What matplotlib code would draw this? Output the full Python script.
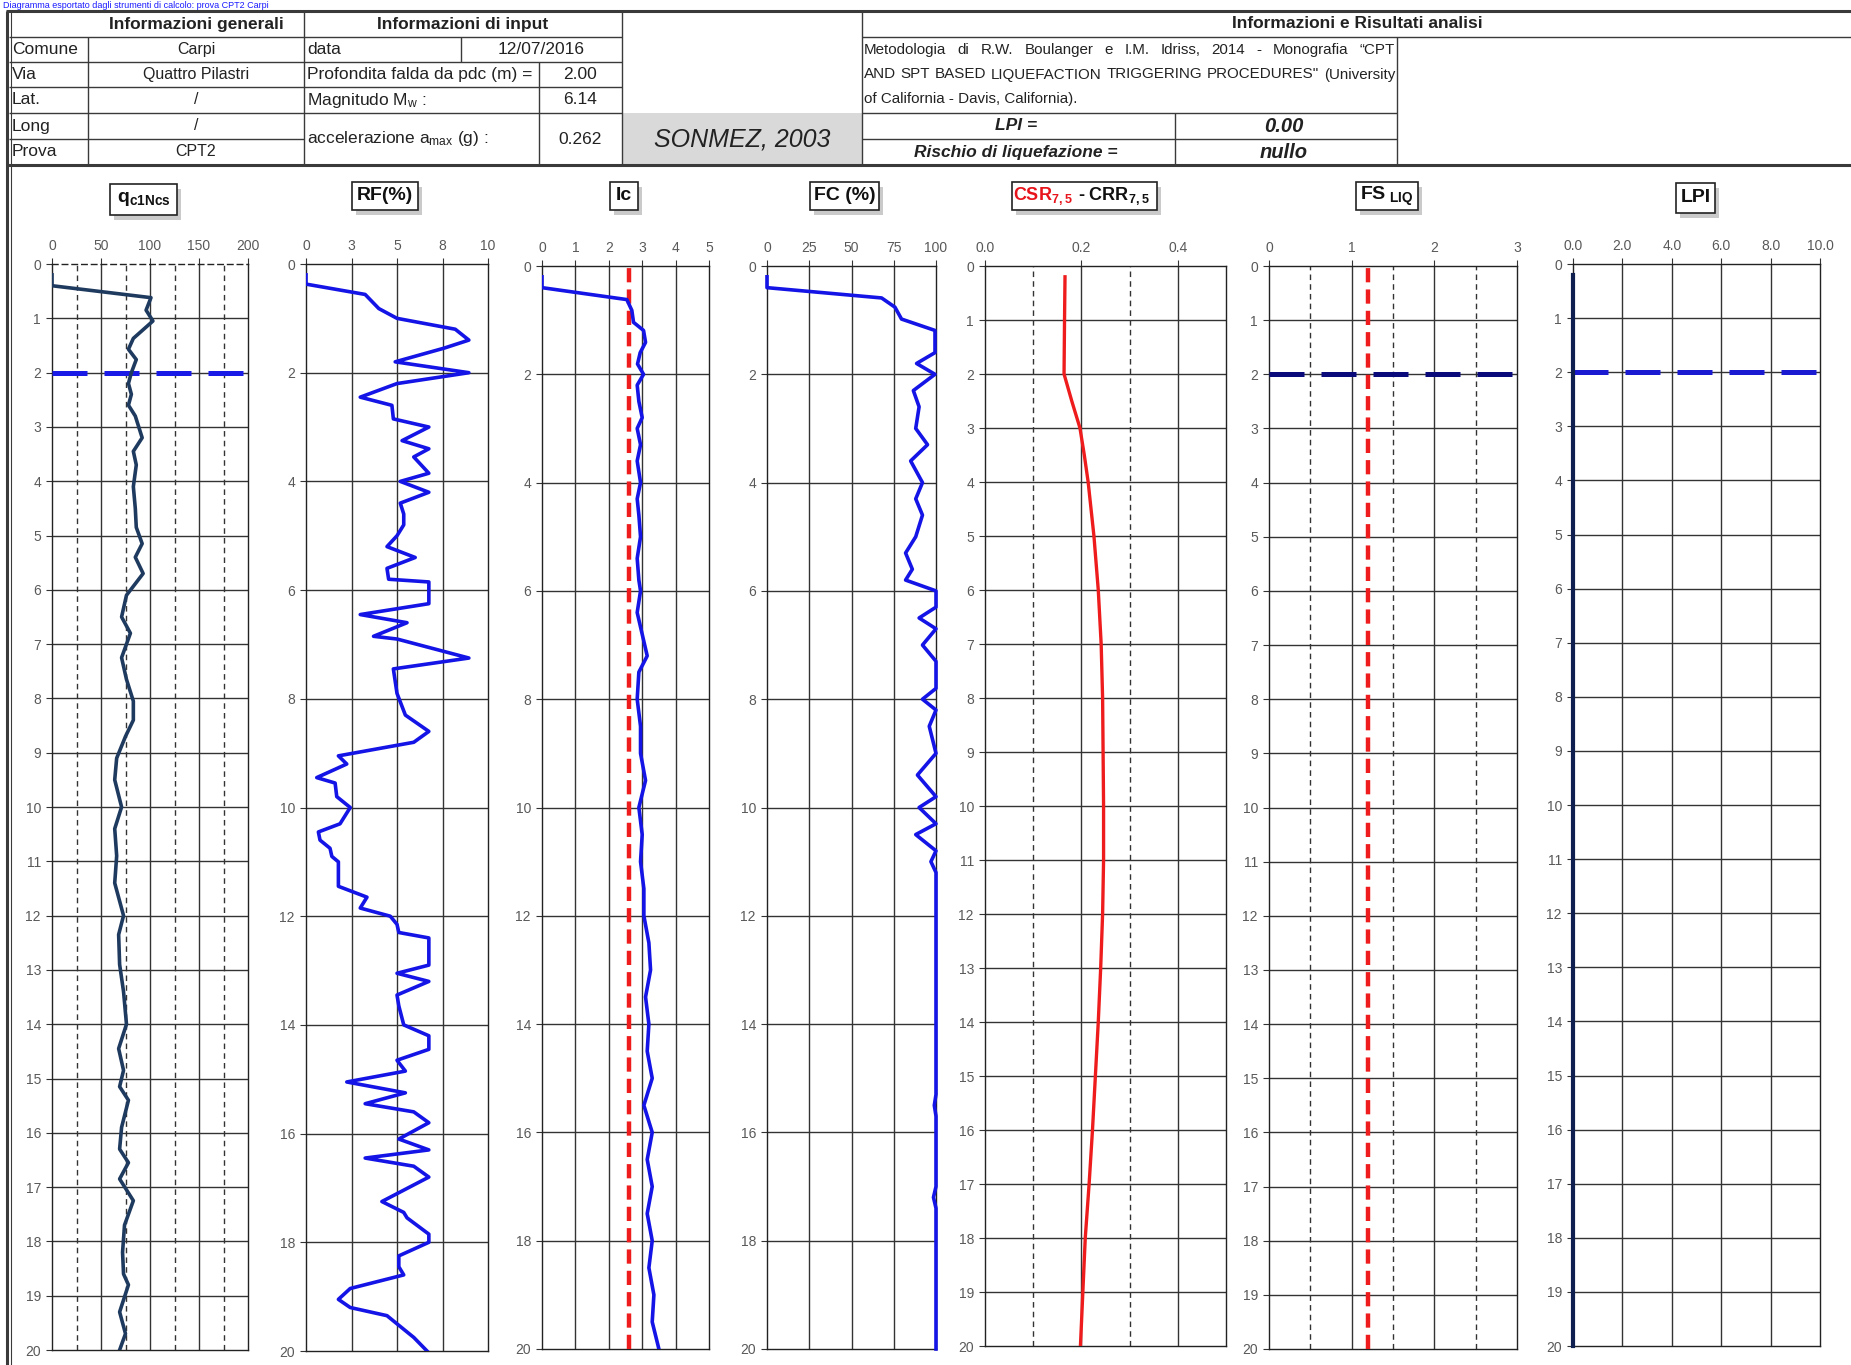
import matplotlib
matplotlib.use("Agg")
import matplotlib.pyplot as plt
from matplotlib.patches import Rectangle
import numpy as np

# ---------------------------------------------------------------- data
qc_depth = [0.2, 0.4, 0.62, 0.85, 1.05, 1.37, 1.57, 1.76, 2.0, 2.2, 2.4, 2.6, 2.8, 3.2, 3.45,
            3.7, 4.1, 4.5, 4.85, 5.15, 5.4, 5.7, 6.1, 6.5, 6.8, 7.25, 7.65, 8.05, 8.4, 8.7,
            9.1, 9.5, 10.0, 10.4, 10.9, 11.4, 12.0, 12.35, 12.9, 13.4, 14.0, 14.45, 14.85,
            15.15, 15.4, 15.9, 16.3, 16.55, 16.85, 17.25, 17.7, 18.2, 18.6, 18.8, 19.3, 19.7, 20.0]
qc_value = [0, 0, 101, 96, 103, 83, 78, 86, 81, 78, 81, 78, 85, 92, 83,
            86, 83, 85, 86, 92, 85, 93, 76, 71, 80, 71, 76, 83, 83, 75,
            66, 64, 71, 64, 66, 64, 73, 68, 69, 73, 76, 68, 73,
            69, 78, 71, 69, 78, 69, 83, 74, 72, 73, 78, 69, 75, 69]

rf_depth = [0.2, 0.37, 0.56, 0.82, 1.0, 1.2, 1.4, 1.55, 1.8, 2.0, 2.2, 2.45, 2.6, 2.85, 3.0,
            3.25, 3.4, 3.55, 3.85, 4.0, 4.2, 4.4, 4.6, 4.8, 5.0, 5.2, 5.4, 5.6, 5.8, 5.85,
            6.25, 6.45, 6.6, 6.85, 6.9, 7.25, 7.45, 7.9, 8.3, 8.6, 8.8, 9.05, 9.2, 9.45, 9.55,
            9.8, 10.0, 10.3, 10.45, 10.6, 10.75, 10.9, 11.0, 11.45, 11.65, 11.85, 12.0, 12.15,
            12.3, 12.4, 12.9, 13.05, 13.2, 13.45, 13.65, 14.0, 14.2, 14.45, 14.65, 14.85, 15.05,
            15.25, 15.45, 15.6, 15.8, 16.1, 16.3, 16.45, 16.6, 16.8, 17.25, 17.45, 17.55, 17.85,
            18.0, 18.25, 18.45, 18.6, 18.85, 19.05, 19.2, 19.35, 19.5, 19.75, 20.0]
rf_value = [0, 0, 3.25, 4.0, 5.0, 8.2, 8.95, 7.57, 4.9, 8.95, 5.0, 2.98, 4.72, 4.8, 6.75,
            5.28, 6.75, 5.92, 6.75, 5.18, 6.75, 5.18, 5.37, 5.37, 5.0, 4.45, 6.0, 4.45, 4.54, 6.75,
            6.75, 2.98, 5.55, 3.71, 5.0, 8.95, 4.8, 5.0, 5.46, 6.75, 5.92, 1.78, 2.24, 0.59, 1.6,
            1.69, 2.43, 1.87, 0.68, 0.77, 1.32, 1.42, 1.78, 1.78, 3.35, 2.98, 4.63, 5.0,
            5.1, 6.75, 6.75, 5.0, 6.75, 5.0, 5.1, 5.37, 6.75, 6.75, 5.0, 5.46, 2.24,
            5.46, 3.25, 5.92, 6.75, 5.1, 6.75, 3.25, 5.92, 6.75, 4.17, 5.37, 5.55, 6.75,
            6.75, 5.1, 5.1, 5.37, 2.43, 1.78, 2.43, 4.45, 5.0, 5.92, 6.65]

ic_depth = [0.2, 0.4, 0.62, 0.82, 1.04, 1.19, 1.41, 1.6, 1.81, 2.0, 2.2, 2.5, 2.8, 3.0, 3.3,
            3.6, 4.0, 4.3, 4.6, 5.0, 5.4, 5.8, 6.0, 6.4, 6.8, 7.2, 7.5, 8.0, 8.5, 9.0, 9.5,
            10.0, 10.5, 11.0, 11.5, 12.0, 12.5, 13.0, 13.5, 14.0, 14.5, 15.0, 15.5, 16.0, 16.5,
            17.0, 17.5, 18.0, 18.5, 19.0, 19.5, 20.0]
ic_value = [0, 0, 2.54, 2.69, 2.74, 3.04, 3.1, 2.94, 2.86, 3.04, 2.85, 2.9, 3.0, 2.85, 2.95,
            2.85, 2.95, 2.85, 2.9, 2.95, 2.85, 2.9, 2.95, 2.85, 3.0, 3.15, 2.9, 2.85, 2.95, 2.95, 3.1,
            2.9, 3.0, 2.95, 3.05, 3.05, 3.2, 3.25, 3.1, 3.2, 3.15, 3.3, 3.05, 3.3, 3.15,
            3.3, 3.15, 3.3, 3.2, 3.35, 3.3, 3.5]

fc_depth = [0.2, 0.4, 0.59, 0.76, 0.98, 1.19, 1.6, 1.8, 2.0, 2.3, 2.6, 3.0, 3.3, 3.6, 4.0,
            4.3, 4.6, 5.0, 5.3, 5.6, 5.8, 6.0, 6.3, 6.5, 6.7, 7.0, 7.3, 7.8, 8.0, 8.2, 8.5,
            9.0, 9.4, 9.8, 10.0, 10.3, 10.5, 10.8, 11.0, 11.2, 15.3, 15.5, 15.7, 17.0, 17.2,
            17.4, 20.0]
fc_value = [0, 0, 67.8, 75.7, 79.6, 99.4, 99.4, 88.5, 99.4, 86.6, 90, 88, 95, 85, 92,
            88, 92, 88, 82, 86, 82, 100, 100, 90, 100, 92, 100, 100, 92, 100, 96,
            100, 89, 100, 90, 100, 88, 100, 97, 100, 100, 99, 100, 100, 98.5,
            100, 100]

csr_depth = [0.2, 1.0, 2.0, 2.5, 3.0, 3.5, 4.0, 5.0, 6.0, 7.0, 8.0, 9.0, 10.0, 11.0, 12.0,
             13.0, 14.0, 15.0, 16.0, 17.0, 18.0, 19.0, 20.0]
csr_value = [0.166, 0.165, 0.164, 0.18, 0.197, 0.206, 0.214, 0.226, 0.235, 0.241, 0.244, 0.245,
             0.246, 0.246, 0.244, 0.240, 0.235, 0.229, 0.223, 0.216, 0.208, 0.203, 0.198]

lpi_depth = [0.2, 20.0]
lpi_value = [0.0, 0.0]

water_table = 2.00       # m from ground level
ic_limit = 2.6
fs_limit = 1.2

header_general = [("Comune", "Carpi"), ("Via", "Quattro Pilastri"), ("Lat.", "/"),
                  ("Long", "/"), ("Prova", "CPT2")]
input_date = "12/07/2016"
magnitude = "6.14"
amax = "0.262"
lpi_total = "0.00"
risk = "nullo"
method_lines = ["Metodologia di R.W. Boulanger e I.M. Idriss, 2014 - Monografia \u201cCPT",
                "AND SPT BASED LIQUEFACTION TRIGGERING PROCEDURES\"  (University",
                "of California - Davis, California)."]

# ---------------------------------------------------------------- figure
W, H = 1851, 1365
fig = plt.figure(figsize=(W / 100, H / 100), dpi=100)
fig.patch.set_facecolor("white")

NARROW = ["Liberation Sans Narrow", "Liberation Sans", "DejaVu Sans"]
ARIAL = ["Liberation Sans", "DejaVu Sans"]
TICK_C = "#595959"
GRID_C = "#333333"

ov = fig.add_axes([0, 0, 1, 1])
ov.set_xlim(0, W)
ov.set_ylim(H, 0)
ov.axis("off")


def hl(x0, x1, y, lw=1.0, c="#3a3a3a"):
    ov.plot([x0, x1], [y, y], color=c, lw=lw, solid_capstyle="butt")


def vl(x, y0, y1, lw=1.0, c="#3a3a3a"):
    ov.plot([x, x], [y0, y1], color=c, lw=lw, solid_capstyle="butt")


def txt(x, y, s, ha="left", size=12, **kw):
    kw.setdefault("family", NARROW)
    kw.setdefault("color", "#222222")
    return ov.text(x, y, s, ha=ha, va="center", fontsize=size, **kw)


# header table
rows = [11, 37, 62, 87, 113, 139, 165]
ov.add_patch(Rectangle((622, 113), 240, 52, facecolor="#d9d9d9", edgecolor="none"))
hl(6, W, rows[0], lw=2.2)
hl(6, W, rows[-1], lw=2.2)
vl(7, rows[0], H, lw=2.2)
vl(10.5, rows[0], H, lw=0.8)
hl(9, 622, rows[1]); hl(862, W, rows[1])
for y in rows[2:5]:
    hl(9, 622, y)
hl(9, 304, rows[5])
hl(862, 1397, rows[4]); hl(862, 1397, rows[5])
vl(304, rows[0], rows[-1]); vl(622, rows[0], rows[-1]); vl(862, rows[0], rows[-1])
vl(88, rows[1], rows[-1]); vl(461, rows[1], rows[2]); vl(539, rows[2], rows[-1])
vl(1175, rows[4], rows[-1]); vl(1397, rows[1], rows[-1])

txt(196, 24, "Informazioni generali", ha="center", size=12.5, weight="bold")
txt(463, 24, "Informazioni di input", ha="center", size=12.5, weight="bold")
txt(1357, 24, "Informazioni e Risultati analisi", ha="center", size=12.5, weight="bold")
for i, (lab, val) in enumerate(header_general):
    yc = (rows[i + 1] + rows[i + 2]) / 2
    txt(12, yc, lab, size=12.5)
    txt(196, yc, val, ha="center", size=11.5)
txt(307, 49.5, "data", size=12.5)
txt(541, 49.5, input_date, ha="center", size=12.5)
txt(307, 74.5, "Profondita falda da pdc (m) =", size=12.5)
txt(580, 74.5, f"{water_table:.2f}", ha="center", size=12.5)
txt(307, 100, r"Magnitudo M$\mathregular{_w}$ :", size=12.5)
txt(580, 100, magnitude, ha="center", size=12.5)
txt(307, 139, r"accelerazione a$\mathregular{_{max}}$ (g) :", size=12.5)
txt(580, 139, amax, ha="center", size=12.5)
txt(742, 139, "SONMEZ, 2003", ha="center", size=18, family=ARIAL, style="italic")

# methodology paragraph, justified inside its cell (last line left-aligned)
renderer = fig.canvas.get_renderer()
cell_l, cell_r = 864, 1395
for i, line in enumerate(method_lines):
    y = 50 + i * 24.5
    if i == len(method_lines) - 1:
        txt(cell_l, y, line, size=10.9)
        continue
    words = line.split()
    items = [txt(cell_l, y, w, size=10.9) for w in words]
    widths = []
    for t in items:
        bb = t.get_window_extent(renderer)
        widths.append(bb.width)
    gap = (cell_r - cell_l - sum(widths)) / (len(words) - 1)
    x = cell_l
    for t, w in zip(items, widths):
        t.set_x(x)
        x += w + gap

txt(1016, 126, "LPI =", ha="center", size=12.5, style="italic", weight="bold")
txt(1284, 126, lpi_total, ha="center", size=14.5, style="italic", weight="bold")
txt(1016, 152, "Rischio di liquefazione =", ha="center", size=12.5, style="italic", weight="bold")
txt(1284, 152, risk, ha="center", size=14.5, style="italic", weight="bold")

# caption line above the table
ov.text(3, 0.5, "Diagramma esportato dagli strumenti di calcolo: prova CPT2 Carpi",
        color="#1a1aff", fontsize=6.5, family=ARIAL, ha="left", va="top")


# title boxes with drop shadow
def title_box(x0, x1, y0, y1):
    ov.add_patch(Rectangle((x0 + 4, y0 + 5), x1 - x0, y1 - y0, facecolor="#a0a0a0",
                           edgecolor="none", alpha=0.55, zorder=2))
    ov.add_patch(Rectangle((x0, y0), x1 - x0, y1 - y0, facecolor="white",
                           edgecolor="#222222", lw=1.2, zorder=3))


title_box(110, 177, 184, 215)
ov.text(143.5, 199.5, r"q$\mathregular{_{c1Ncs}}$", ha="center", va="center", fontsize=14,
        weight="bold", family=ARIAL, color="#111111", zorder=4)
title_box(352, 418, 182, 210)
ov.text(385, 196, "RF(%)", ha="center", va="center", fontsize=14, weight="bold",
        family=ARIAL, color="#111111", zorder=4)
title_box(610, 638, 182, 210)
ov.text(624, 196, "Ic", ha="center", va="center", fontsize=14, weight="bold",
        family=ARIAL, color="#111111", zorder=4)
title_box(810, 879, 182, 210)
ov.text(844.5, 196, "FC (%)", ha="center", va="center", fontsize=14, weight="bold",
        family=ARIAL, color="#111111", zorder=4)
title_box(1012, 1157, 182, 210)
ov.text(1073, 196, r"CSR$\mathregular{_{7,5}}$", ha="right", va="center", fontsize=13,
        weight="bold", family=ARIAL, color="#e8141b", zorder=4)
ov.text(1073, 196, r" - CRR$\mathregular{_{7,5}}$", ha="left", va="center", fontsize=13,
        weight="bold", family=ARIAL, color="#111111", zorder=4)
title_box(1356, 1418, 182, 210)
ov.text(1387, 196, r"FS$\mathregular{_{\ LIQ}}$", ha="center", va="center", fontsize=14,
        weight="bold", family=ARIAL, color="#111111", zorder=4)
title_box(1676, 1715, 183, 213)
ov.text(1695.5, 198, "LPI", ha="center", va="center", fontsize=14, weight="bold",
        family=ARIAL, color="#111111", zorder=4)


# ---------------------------------------------------------------- panels
def panel(box, xlim, xticks, xlabels, ystep, solid_v, dashed_v=(), hgrid_step=1):
    x0, y0, x1, y1 = box
    ax = fig.add_axes([x0 / W, 1 - y1 / H, (x1 - x0) / W, (y1 - y0) / H])
    ax.set_facecolor("none")
    ax.set_xlim(*xlim)
    ax.set_ylim(20, 0)
    ax.xaxis.tick_top()
    ax.set_xticks(xticks)
    ax.set_xticklabels(xlabels)
    yt = np.arange(0, 20.01, ystep)
    ax.set_yticks(yt)
    ax.set_yticklabels([f"{v:g}" for v in yt])
    ax.tick_params(axis="both", length=4, width=0.8, color="#333333", labelsize=10,
                   labelcolor=TICK_C, pad=4)
    for lab in ax.get_xticklabels() + ax.get_yticklabels():
        lab.set_family(ARIAL)
    for s in ax.spines.values():
        s.set_color("#222222")
        s.set_linewidth(1.0)
    for y in np.arange(hgrid_step, 20, hgrid_step):
        ax.axhline(y, color=GRID_C, lw=1.0, zorder=1)
    for x in solid_v:
        ax.axvline(x, color=GRID_C, lw=1.0, zorder=1)
    for x in dashed_v:
        ax.axvline(x, color=GRID_C, lw=1.0, ls=(0, (4, 3)), zorder=1)
    return ax


def water_line(ax, color):
    ax.axhline(water_table, color=color, lw=3.6, ls=(0, (7, 3.4)), zorder=4,
               dash_capstyle="butt")


# q_c1Ncs
ax = panel((52, 264, 248, 1350), (0, 200), [0, 50, 100, 150, 200],
           ["0", "50", "100", "150", "200"], 1, [50, 100, 150], [25, 75, 125, 175], 1)
ax.spines["top"].set_linestyle((0, (4, 3)))
water_line(ax, "#1a1ae6")
ax.plot(qc_value, qc_depth, color="#1f3a5f", lw=2.6, zorder=5, solid_joinstyle="round")

# RF
ax = panel((306, 264, 488, 1351), (0, 10), [0, 2.5, 5, 7.5, 10],
           ["0", "3", "5", "8", "10"], 2, [2.5, 5, 7.5], [], 2)
ax.plot(rf_value, rf_depth, color="#1414e6", lw=2.6, zorder=5, solid_joinstyle="round")

# Ic
ax = panel((542, 266, 709, 1349), (0, 5), [0, 1, 2, 3, 4, 5],
           ["0", "1", "2", "3", "4", "5"], 2, [1, 2, 3, 4], [], 2)
ax.axvline(ic_limit, color="#ee1c1c", lw=3.2, ls=(0, (3.2, 1.6)), zorder=4)
ax.plot(ic_value, ic_depth, color="#1414e6", lw=2.6, zorder=5, solid_joinstyle="round")

# FC
ax = panel((767, 266, 936, 1349), (0, 100), [0, 25, 50, 75, 100],
           ["0", "25", "50", "75", "100"], 2, [25, 50, 75], [], 2)
ax.plot(fc_value, fc_depth, color="#1414e6", lw=2.6, zorder=5, solid_joinstyle="round",
        clip_on=False)

# CSR - CRR
ax = panel((985, 266, 1226, 1346), (0, 0.5), [0, 0.2, 0.4],
           ["0.0", "0.2", "0.4"], 1, [0.2, 0.4], [0.1, 0.3], 1)
ax.plot(csr_value, csr_depth, color="#ee1c1c", lw=2.4, zorder=5, solid_joinstyle="round")

# FS liq
ax = panel((1269, 266, 1517, 1349), (0, 3), [0, 1, 2, 3],
           ["0", "1", "2", "3"], 1, [1, 2], [0.5, 1.5, 2.5], 1)
water_line(ax, "#0a0a7a")
ax.axvline(fs_limit, color="#ee1c1c", lw=3.2, ls=(0, (3.2, 1.6)), zorder=5)

# LPI
ax = panel((1573, 264, 1820, 1346), (0, 10), [0, 2, 4, 6, 8, 10],
           ["0.0", "2.0", "4.0", "6.0", "8.0", "10.0"], 1, [2, 4, 6, 8], [], 1)
water_line(ax, "#1a1ad2")
ax.plot(lpi_value, lpi_depth, color="#0f1f4f", lw=3.0, zorder=6, clip_on=False)

fig.savefig("out.png", dpi=100, facecolor="white")
